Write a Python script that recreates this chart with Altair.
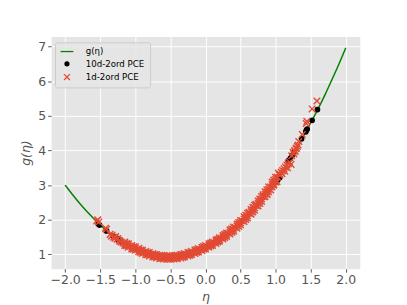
import altair as alt
import pandas as pd

# green curve g(eta)
g_eta = [-2.0, -1.9, -1.8, -1.7, -1.6, -1.5, -1.4, -1.3, -1.2, -1.1, -1.0, -0.9, -0.8, -0.7,
         -0.6, -0.5, -0.4, -0.3, -0.2, -0.1, 0.0, 0.1, 0.2, 0.3, 0.4, 0.5, 0.6, 0.7, 0.8, 0.9,
         1.0, 1.1, 1.2, 1.3, 1.4, 1.5, 1.6, 1.7, 1.8, 1.9, 2.0]
g_val = [3.00, 2.74, 2.49, 2.26, 2.05, 1.85, 1.67, 1.52, 1.38, 1.26, 1.16, 1.08, 1.01, 0.96,
         0.92, 0.91, 0.93, 0.97, 1.03, 1.11, 1.20, 1.31, 1.43, 1.57, 1.73, 1.90, 2.09, 2.31, 2.55, 2.80,
         3.08, 3.38, 3.71, 4.06, 4.43, 4.80, 5.18, 5.59, 6.03, 6.48, 6.96]

# 10d-2ord PCE (black dots, visible ones)
pce10_eta = [-1.526, -1.51, -1.41, -1.317, -1.247, -1.2, 1.0, 1.03, 1.06, 1.18, 1.21, 1.236,
             1.26, 1.37, 1.43, 1.44, 1.45, 1.52, 1.596]
pce10_val = [1.88, 1.85, 1.68, 1.54, 1.44, 1.37, 3.08, 3.15, 3.22, 3.70, 3.77, 3.86,
             3.95, 4.34, 4.54, 4.59, 4.62, 4.87, 5.18]

# 1d-2ord PCE (red crosses): tails and band centre
pce1_eta = [-1.55, -1.535, -1.52, -1.425, -1.41, -1.36, -1.34, -1.33, -1.31, -1.29, -1.28,
            -1.26, -1.25, -1.23, -1.22,
            -1.200, -1.175, -1.150, -1.125, -1.100, -1.075, -1.050, -1.025, -1.000, -0.975,
            -0.950, -0.925, -0.900, -0.875, -0.850, -0.825, -0.800, -0.775, -0.750, -0.725,
            -0.700, -0.675, -0.650, -0.625, -0.600, -0.575, -0.550, -0.525, -0.500, -0.475,
            -0.450, -0.425, -0.400, -0.375, -0.350, -0.325, -0.300, -0.275, -0.250, -0.225,
            -0.200, -0.175, -0.150, -0.125, -0.100, -0.075, -0.050, -0.025, 0.000, 0.025,
            0.050, 0.075, 0.100, 0.125, 0.150, 0.175, 0.200, 0.225, 0.250, 0.275,
            0.300, 0.325, 0.350, 0.375, 0.400, 0.425, 0.450, 0.475, 0.500, 0.525,
            0.550, 0.575, 0.600, 0.625, 0.650, 0.675, 0.700, 0.725, 0.750, 0.775,
            0.800, 0.825, 0.850, 0.875, 0.900, 0.925, 0.950, 0.975, 1.000, 1.025, 1.050,
            0.62, 0.72, 0.82, 0.88, 0.93, 0.97, 1.02, 1.04,
            1.06, 1.08, 1.09, 1.10, 1.12, 1.13, 1.14, 1.16, 1.17, 1.18, 1.20, 1.22, 1.23,
            1.25, 1.26, 1.27, 1.28, 1.29, 1.30, 1.31, 1.32, 1.33, 1.38, 1.437, 1.445, 1.52, 1.589]
pce1_val = [1.97, 2.00, 1.94, 1.76, 1.73, 1.58, 1.53, 1.56, 1.50, 1.47, 1.52,
            1.44, 1.46, 1.41, 1.38,
            1.36, 1.33, 1.31, 1.28, 1.26, 1.24, 1.21, 1.19, 1.17, 1.15,
            1.13, 1.10, 1.08, 1.06, 1.04, 1.03, 1.01, 0.99, 0.98, 0.96,
            0.95, 0.94, 0.93, 0.93, 0.92, 0.92, 0.91, 0.91, 0.91, 0.92,
            0.92, 0.93, 0.93, 0.94, 0.95, 0.96, 0.98, 0.99, 1.01, 1.02,
            1.04, 1.06, 1.08, 1.10, 1.12, 1.14, 1.16, 1.19, 1.21, 1.23,
            1.26, 1.29, 1.31, 1.34, 1.37, 1.40, 1.43, 1.47, 1.50, 1.54,
            1.57, 1.61, 1.65, 1.69, 1.73, 1.78, 1.82, 1.87, 1.92, 1.97,
            2.02, 2.07, 2.12, 2.18, 2.23, 2.29, 2.35, 2.41, 2.47, 2.54,
            2.60, 2.67, 2.74, 2.81, 2.88, 2.95, 3.02, 3.09, 3.16, 3.23, 3.30,
            2.22, 2.45, 2.72, 2.74, 2.86, 3.00, 3.10, 3.35,
            3.30, 3.38, 3.33, 3.42, 3.47, 3.40, 3.52, 3.58, 3.50, 3.62, 3.66, 3.60, 3.85,
            3.95, 3.90, 4.00, 3.97, 4.05, 4.07, 4.12, 4.16, 4.26, 4.46, 4.78, 4.84, 5.20, 5.43]

# 1d-2ord PCE: samples along the upper and lower edges of the red band
band_eta = [-1.15, -1.10, -1.05, -1.00, -0.95, -0.90, -0.85, -0.80, -0.75, -0.70, -0.65,
            -0.60, -0.55, -0.50, -0.45, -0.40, -0.35, -0.30, -0.25, -0.20, -0.15, -0.10,
            -0.05, 0.00, 0.05, 0.10, 0.15, 0.20, 0.25, 0.30, 0.35, 0.40, 0.45, 0.50,
            0.55, 0.60, 0.65, 0.70, 0.75, 0.80, 0.85, 0.90, 0.95, 1.00]
band_upper = [1.36, 1.31, 1.26, 1.22, 1.18, 1.13, 1.09, 1.06, 1.03, 1.00, 0.98,
              0.97, 0.96, 0.96, 0.97, 0.98, 1.00, 1.03, 1.06, 1.09, 1.13, 1.17,
              1.21, 1.26, 1.31, 1.36, 1.42, 1.48, 1.55, 1.62, 1.71, 1.79, 1.88, 1.98,
              2.09, 2.19, 2.30, 2.42, 2.54, 2.67, 2.81, 2.95, 3.09, 3.23]
band_lower = [1.26, 1.21, 1.16, 1.12, 1.08, 1.03, 0.99, 0.96, 0.93, 0.90, 0.88,
              0.87, 0.86, 0.86, 0.87, 0.88, 0.90, 0.93, 0.96, 0.99, 1.03, 1.07,
              1.11, 1.16, 1.21, 1.26, 1.32, 1.38, 1.45, 1.52, 1.59, 1.67, 1.76, 1.86,
              1.95, 2.05, 2.16, 2.28, 2.40, 2.53, 2.67, 2.81, 2.95, 3.09]
# midway samples between the band edges (offset in eta)
band_mid_eta = [-1.125, -1.025, -0.925, -0.825, -0.725, -0.625, -0.525, -0.425, -0.325, -0.225,
                -0.125, -0.025, 0.075, 0.175, 0.275, 0.375, 0.475, 0.575, 0.675, 0.775, 0.875, 0.975]
band_mid_up = [1.32, 1.22, 1.13, 1.06, 1.00, 0.97, 0.95, 0.97, 1.00, 1.06,
               1.14, 1.23, 1.33, 1.44, 1.58, 1.74, 1.92, 2.13, 2.36, 2.60, 2.87, 3.15]
band_mid_lo = [1.25, 1.15, 1.06, 0.99, 0.93, 0.89, 0.87, 0.89, 0.92, 0.98,
               1.06, 1.15, 1.25, 1.36, 1.49, 1.64, 1.81, 2.01, 2.23, 2.47, 2.74, 3.02]

series_names = ["g(η)", "10d-2ord PCE", "1d-2ord PCE"]
x_ticks = [-2.0, -1.5, -1.0, -0.5, 0.0, 0.5, 1.0, 1.5, 2.0]
y_ticks = [1, 2, 3, 4, 5, 6, 7]

curve_df = pd.DataFrame({"eta": g_eta, "g": g_val})
pts_df = pd.concat([
    pd.DataFrame({"eta": pce10_eta, "g": pce10_val, "series": series_names[1], "order": 0}),
    pd.DataFrame({"eta": pce1_eta, "g": pce1_val, "series": series_names[2], "order": 1}),
    pd.DataFrame({"eta": band_eta, "g": band_upper, "series": series_names[2], "order": 1}),
    pd.DataFrame({"eta": band_eta, "g": band_lower, "series": series_names[2], "order": 1}),
    pd.DataFrame({"eta": band_mid_eta, "g": band_mid_up, "series": series_names[2], "order": 1}),
    pd.DataFrame({"eta": band_mid_eta, "g": band_mid_lo, "series": series_names[2], "order": 1}),
], ignore_index=True)

xscale = alt.Scale(domain=[-2.2, 2.2], nice=False, zero=False)
yscale = alt.Scale(domain=[0.59, 7.29], nice=False, zero=False)

xenc = alt.X("eta:Q", scale=xscale,
             axis=alt.Axis(values=x_ticks, format=".1f", title="η", titleFontStyle="italic",
                           titlePadding=4))
yenc = alt.Y("g:Q", scale=yscale,
             axis=alt.Axis(values=y_ticks, format="d", title="g(η)", titleFontStyle="italic",
                           titlePadding=5))

leg = alt.Legend(title=None, orient="none", legendX=4, legendY=6,
                 fillColor="rgba(229,229,229,0.8)", strokeColor="#cccccc", cornerRadius=2,
                 padding=5, symbolOffset=2.75, labelOffset=14.75, rowPadding=1.5,
                 labelFontSize=8.8, labelColor="#000000", symbolStrokeWidth=1.3,
                 symbolSize=16)

line = alt.Chart(curve_df).mark_line(color="green", strokeWidth=1.5, interpolate="monotone").encode(
    x=xenc, y=yenc)

cross_path = "M-1.5,-1.5L1.5,1.5M-1.5,1.5L1.5,-1.5"
line_path = "M-3.25,0L3.25,0"

points = alt.Chart(pts_df).mark_point(size=20, strokeWidth=1.4, opacity=1).encode(
    x=xenc, y=yenc,
    stroke=alt.Stroke("series:N", scale=alt.Scale(domain=series_names,
                                                  range=["green", "black", "#E24A33"]), legend=leg),
    fill=alt.Fill("series:N", scale=alt.Scale(domain=series_names,
                                              range=["transparent", "black", "transparent"]), legend=leg),
    shape=alt.Shape("series:N", scale=alt.Scale(domain=series_names,
                                                range=[line_path, "circle", cross_path]), legend=leg),
    order=alt.Order("order:Q"),
)

chart = alt.layer(line, points).properties(
    width=315, height=237,
    autosize=alt.AutoSizeParams(type="none"),
    padding={"left": 44, "top": 26, "right": 40, "bottom": 34},
).configure_view(fill="#E5E5E5", stroke="transparent").configure_axis(
    domain=False, grid=True, gridColor="white", gridWidth=1,
    tickColor="#555555", tickSize=3.5, tickWidth=1,
    labelColor="#555555", labelFontSize=12.7, labelFont="DejaVu Sans", labelPadding=2,
    titleColor="#555555", titleFontSize=12.7, titleFont="DejaVu Sans", titleFontWeight="normal",
).configure_legend(labelFont="DejaVu Sans")

chart.save("out.html", embed_options={"renderer": "svg", "actions": False})
